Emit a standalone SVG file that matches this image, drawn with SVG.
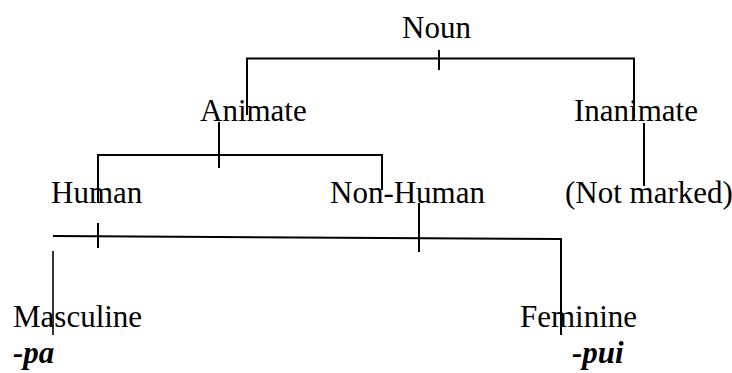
<svg xmlns="http://www.w3.org/2000/svg" width="732" height="373" viewBox="0 0 732 373">
  <style>
    .lbl { font-family: "Liberation Serif", "Times New Roman", serif; font-size: 31px; fill: #000; }
    .suf { font-family: "Liberation Serif", "Times New Roman", serif; font-size: 31px; font-weight: bold; font-style: italic; fill: #000; }
    .ln { stroke: #000; stroke-width: 2; fill: none; }
    .thin { stroke: #000; stroke-width: 1.6; fill: none; }
  </style>
  <rect width="732" height="373" fill="#fff"/>

  <!-- tree branches -->
  <g id="connectors">
    <!-- Noun split -->
    <polyline class="ln" points="247,115 247,58.5 634,58.5 634,118"/>
    <line class="ln" x1="439" y1="50" x2="439" y2="70"/>
    <!-- Animate split -->
    <polyline class="ln" points="98,203 98,155 382,155 382,190"/>
    <line class="ln" x1="219" y1="122" x2="219" y2="168"/>
    <!-- Inanimate branch -->
    <line class="ln" x1="644" y1="123" x2="644" y2="186"/>
    <!-- gender split -->
    <polyline class="ln" points="53,236 561,239 561,335"/>
    <line class="ln" x1="98" y1="223" x2="98" y2="248"/>
    <line class="ln" x1="419" y1="203" x2="419" y2="252"/>
    <line class="thin" x1="53" y1="251" x2="53" y2="335"/>
  </g>

  <g id="noun"><text class="lbl" x="402" y="38">Noun</text></g>
  <g id="animate"><text class="lbl" x="200" y="121">Animate</text></g>
  <g id="inanimate"><text class="lbl" x="574" y="121">Inanimate</text></g>
  <g id="human"><text class="lbl" x="51" y="203">Human</text></g>
  <g id="non-human"><text class="lbl" x="330" y="203">Non-Human</text></g>
  <g id="not-marked"><text class="lbl" x="565" y="203">(Not marked)</text></g>
  <g id="masculine">
    <text class="lbl" x="13" y="327">Masculine</text>
    <text class="suf" x="13" y="363">-pa</text>
  </g>
  <g id="feminine">
    <text class="lbl" x="520" y="327">Feminine</text>
    <text class="suf" x="572" y="363">-pui</text>
  </g>
</svg>
